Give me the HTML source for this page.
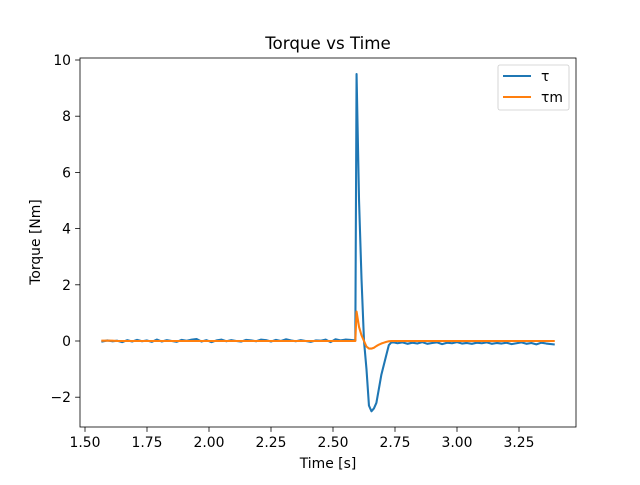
<!DOCTYPE html>
<html><head><meta charset="utf-8"><style>
body{margin:0;background:#fff}
svg{font-family:"DejaVu Sans","Liberation Sans",sans-serif}
</style></head><body>
<svg id="c" width="640" height="480" xmlns="http://www.w3.org/2000/svg"></svg>
<script>
const timesPre=[1.57,1.59,1.61,1.63,1.65,1.67,1.69,1.71,1.73,1.75,1.77,1.79,1.81,1.83,1.85,1.87,1.89,1.91,1.93,1.95,1.97,1.99,2.01,2.03,2.05,2.07,2.09,2.11,2.13,2.15,2.17,2.19,2.21,2.23,2.25,2.27,2.29,2.31,2.33,2.35,2.37,2.39,2.41,2.43,2.45,2.47,2.49,2.51,2.53,2.55,2.57];
const timesSpike=[2.59,2.595,2.605,2.615,2.625,2.635,2.645,2.655,2.665,2.675,2.685,2.695,2.705,2.715,2.725,2.735,2.745];
const timesPost=[2.76,2.78,2.80,2.82,2.84,2.86,2.88,2.90,2.92,2.94,2.96,2.98,3.00,3.02,3.04,3.06,3.08,3.10,3.12,3.14,3.16,3.18,3.20,3.22,3.24,3.26,3.28,3.30,3.32,3.34,3.36,3.39];
const tauPre=[-0.02,0.02,-0.01,0.01,-0.04,0.03,-0.02,0.04,-0.01,0.02,-0.03,0.05,-0.02,0.03,0.0,-0.03,0.04,0.01,0.05,0.07,-0.02,0.03,-0.04,0.02,0.05,-0.01,0.03,0.0,-0.02,0.04,0.02,-0.01,0.05,0.03,-0.02,0.04,0.0,0.06,0.02,-0.01,0.03,0.0,-0.03,0.02,0.01,0.05,-0.04,0.06,0.02,0.05,0.04];
const tauSpike=[0.02,9.5,5.0,2.2,0.0,-1.0,-2.3,-2.5,-2.4,-2.2,-1.7,-1.2,-0.85,-0.5,-0.15,-0.05,-0.05];
const tauPost=[-0.08,-0.05,-0.1,-0.06,-0.09,-0.04,-0.1,-0.07,-0.05,-0.11,-0.06,-0.08,-0.04,-0.09,-0.07,-0.1,-0.06,-0.08,-0.05,-0.1,-0.07,-0.09,-0.06,-0.11,-0.08,-0.05,-0.1,-0.07,-0.12,-0.06,-0.09,-0.12];
const tauMPre=[0.01,0.01,0.01,0,0,0,0,0,0,0,0,0,0,0,0,0,0,0,0,0,0,0,0,0,0,0,0,0,0,0,0,0,0,0,0,0,0,0,0,0,0,0,0,0,0,0,0,0,0,0,0];
const tauMSpike=[0.0,1.05,0.5,0.2,0.0,-0.2,-0.27,-0.27,-0.24,-0.18,-0.13,-0.09,-0.06,-0.03,-0.01,0.0,0.0];
const tauMPost=[0,0,0,0,0,0,0,0,0,0,0,0,0,0,0,0,0,0,0,0,0,0,0,0,0,0,0,0,0,0,0,0];
const xTicks=[1.5,1.75,2.0,2.25,2.5,2.75,3.0,3.25];
const xTickLabels=["1.50","1.75","2.00","2.25","2.50","2.75","3.00","3.25"];
const yTicks=[-2,0,2,4,6,8,10];
const yTickLabels=["\u22122","0","2","4","6","8","10"];

const L=80,R=576,T=58,B=427;
const xs=t=>85+(t-1.5)*248;
const ys=v=>341-v*28.1;
const svg=document.getElementById('c');
const NS="http://www.w3.org/2000/svg";
function mk(tag,at,parent){const e=document.createElementNS(NS,tag);for(const k in at)e.setAttribute(k,at[k]);(parent||svg).appendChild(e);return e;}

const bg=mk('rect',{x:L,y:T,width:R-L,height:B-T,fill:'#fff'});



function series(ts,vs,color,name){
  const d=ts.map((t,i)=>(i?'L':'M')+xs(t).toFixed(2)+','+ys(vs[i]).toFixed(2)).join('');
  const p=mk('path',{d:d,fill:'none',stroke:color,'stroke-width':2.08,'stroke-linejoin':'round','stroke-linecap':'square'});
  
  
}
const T_all=timesPre.concat(timesSpike,timesPost);
series(T_all,tauPre.concat(tauSpike,tauPost),'#1f77b4','tau-line');
series(T_all,tauMPre.concat(tauMSpike,tauMPost),'#ff7f0e','tau-m-line');

const frame=mk('rect',{x:L,y:T,width:R-L,height:B-T,fill:'none',stroke:'#000','stroke-width':0.8});



xTicks.forEach((t,i)=>{
  const x=xs(t);
  const tk=mk('line',{x1:x,x2:x,y1:B,y2:B+4.9,stroke:'#000','stroke-width':0.8});
  
  
  const tx=mk('text',{x:x,y:B+20,'font-size':13.9,'text-anchor':'middle'});
  tx.textContent=xTickLabels[i];
  
  
});
yTicks.forEach((v,i)=>{
  const y=ys(v);
  const tk=mk('line',{x1:L-4.9,x2:L,y1:y,y2:y,stroke:'#000','stroke-width':0.8});
  
  
  const tx=mk('text',{x:L-9,y:y+5,'font-size':13.9,'text-anchor':'end'});
  tx.textContent=yTickLabels[i];
  
  
});
const title=mk('text',{x:328,y:49,'font-size':16.7,'text-anchor':'middle'});
title.textContent='Torque vs Time';


const xl=mk('text',{x:328,y:468,'font-size':13.9,'text-anchor':'middle'});
xl.textContent='Time [s]';


const yl=mk('text',{x:0,y:0,'font-size':13.9,'text-anchor':'middle',transform:'translate(40,242) rotate(-90)'});
yl.textContent='Torque [Nm]';



const lg=mk('g',{});


mk('rect',{x:498,y:65,width:71,height:45,rx:2,fill:'#fff','fill-opacity':0.8,stroke:'#ccc','stroke-width':0.8},lg);
[['τ','#1f77b4',76],['τm','#ff7f0e',97]].forEach(([lab,col,y])=>{
  const e=mk('g',{},lg);
  
  
  mk('line',{x1:503,x2:531,y1:y,y2:y,stroke:col,'stroke-width':2.08},e);
  const t=mk('text',{x:541,y:y+5,'font-size':13.9},e);
  t.textContent=lab;
});
</script>
</body></html>
